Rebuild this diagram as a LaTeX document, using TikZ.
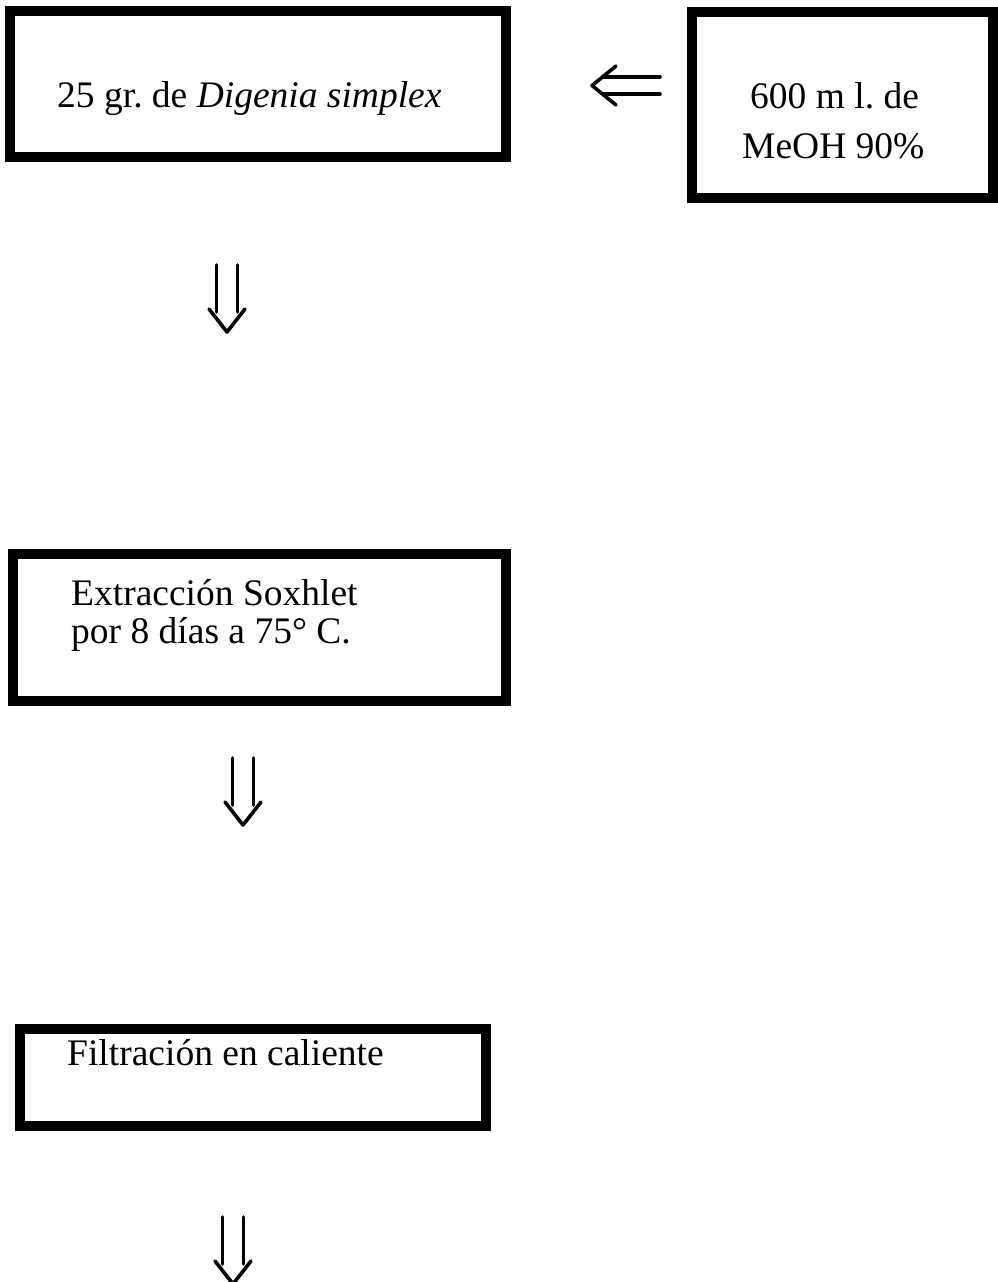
\documentclass[tikz,border=0pt]{standalone}
\usepackage{fontspec}
\setmainfont{Liberation Serif}
\frenchspacing
\begin{document}
\begin{tikzpicture}[x=1pt,y=-1pt,
  box/.style={draw, line width=9.5pt, inner sep=0pt},
  lbl/.style={font=\fontsize{37.5}{40}\selectfont, inner sep=0pt, anchor=base west},
  shaft/.style={line width=3.6pt, line cap=round, line join=round},
  dnarrow/.pic={
    \draw[shaft] (-10.5,-67) -- (-10.5,-20);
    \draw[shaft] (10.5,-67) -- (10.5,-20);
    \draw[shaft] (-18,-23) -- (0,0) -- (18,-23);
  }]
\useasboundingbox (0,0) rectangle (997,1282);
% boxes
\node[box, minimum width=496pt, minimum height=146pt] (b1) at (258,84) {};
\node[box, minimum width=301pt, minimum height=186pt] (b2) at (842.5,105) {};
\node[box, minimum width=493pt, minimum height=147pt] (b3) at (259.5,627.5) {};
\node[box, minimum width=466pt, minimum height=97pt] (b4) at (253,1077.5) {};
% texts
\node[lbl] (t1) at (57,107) {25 gr. de \textit{Digenia simplex}};
\node[lbl] (t2a) at (750,108) {600 m l. de};
\node[lbl] (t2b) at (742,158) {MeOH 90\%};
\node[lbl] (t3a) at (71,605) {Extracción Soxhlet};
\node[lbl] (t3b) at (71,643) {por 8 días a 75° C.};
\node[lbl] (t4) at (67,1065) {Filtración en caliente};
% left arrow
\coordinate (la) at (592,85.5);
\coordinate (lt) at (660,77);
\coordinate (lb) at (660,94);
\draw[shaft] (lt) -- (603,77);
\draw[shaft] (lb) -- (603,94);
\draw[shaft] (616,66) -- (la) -- (616,105);
% down arrows
\pic (d1) at (227,332) {dnarrow};
\pic (d2) at (243,825) {dnarrow};
\pic (d3) at (233,1284) {dnarrow};
\end{tikzpicture}
\end{document}
